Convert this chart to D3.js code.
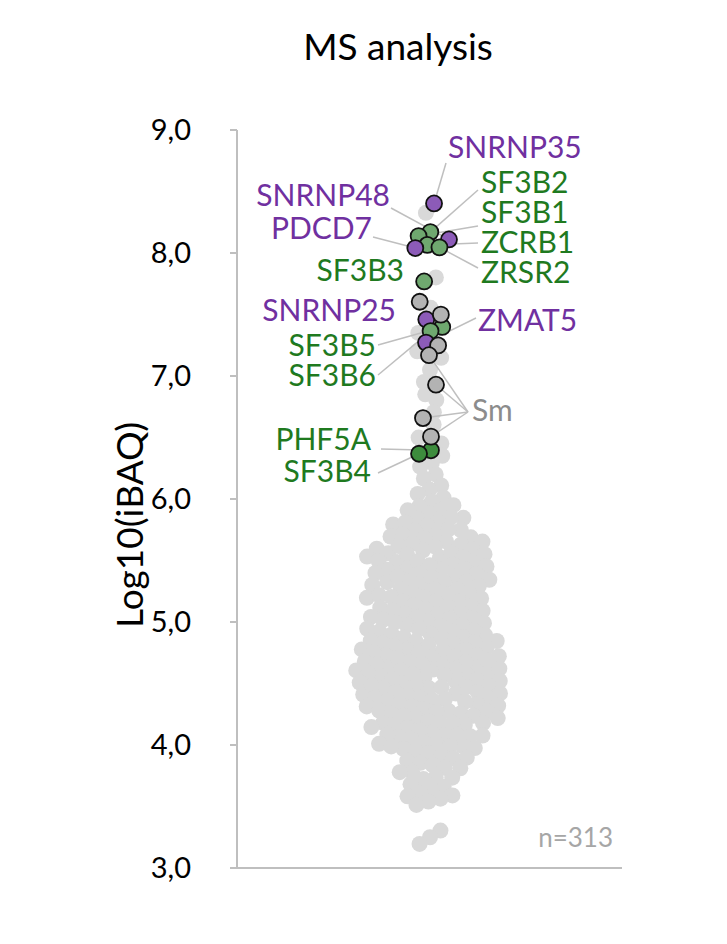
<!DOCTYPE html>
<html><head><meta charset="utf-8">
<script src="https://cdn.jsdelivr.net/npm/d3@7"></script>
<style>body{margin:0;background:#fff}text{font-family:Lato,"Open Sans",sans-serif}</style>
</head><body><svg id="c" width="727" height="944"></svg>
<script>
const yTicks=[3,4,5,6,7,8,9];
const tickLabels=["3,0","4,0","5,0","6,0","7,0","8,0","9,0"];
const hiNames=["SNRNP35","SF3B2","SNRNP48","SF3B1","ZCRB1","PDCD7","ZRSR2","SF3B3","Sm1","SNRNP25","Sm2","SF3B5","SF3B6","ZMAT5","Sm3","Sm4","Sm5","Sm6","Sm7","PHF5A","SF3B4"];
const hiValues=[8.40,8.17,8.10,8.12,8.07,8.05,8.06,7.77,7.60,7.46,7.50,7.40,7.37,7.27,7.25,7.17,6.93,6.66,6.52,6.38,6.37];
const hiGroup=["p","g","p","g","g","p","g","g","s","p","s","g","g","p","s","s","s","s","s","g2","g2"];
const bgValues=[8.33,7.80,7.55,7.35,7.20,7.15,7.05,6.95,6.85,6.80,6.70,6.60,6.50,6.45,6.35,6.30,6.25,6.20,6.15,6.10,6.05,6.02,5.98,5.95,5.92,5.90,
5.88,5.86,5.85,5.83,5.82,5.80,5.78,5.76,5.75,5.74,5.72,5.70,5.69,5.68,5.66,5.65,5.64,5.62,5.61,5.60,5.59,5.58,5.57,5.56,5.55,5.55,5.54,5.53,5.53,5.52,5.52,5.51,5.50,5.50,5.49,5.48,5.48,5.47,5.46,5.45,5.45,5.44,5.43,5.42,5.41,5.40,5.40,5.39,5.38,5.37,5.36,5.35,5.34,5.33,5.32,5.31,5.30,5.29,5.28,5.27,5.26,5.25,5.24,5.23,5.22,5.21,5.20,5.19,5.18,5.17,5.16,5.15,5.14,5.13,5.12,5.11,5.10,5.09,5.08,5.07,5.06,5.05,5.04,5.03,5.02,5.01,5.00,5.00,4.99,4.98,4.97,4.96,4.95,4.95,4.94,4.93,4.92,4.91,4.90,4.90,4.89,4.88,4.87,4.86,4.85,4.85,4.84,4.83,4.82,4.81,4.80,4.80,4.79,4.78,4.77,4.76,4.75,4.75,4.74,4.73,4.72,4.72,4.71,4.70,4.70,4.69,4.68,4.68,4.67,4.66,4.66,4.65,4.65,4.64,4.63,4.63,4.62,4.62,4.61,4.60,4.60,4.59,4.58,4.58,4.57,4.57,4.56,4.55,4.55,4.54,4.54,4.53,4.52,4.52,4.51,4.50,4.50,4.49,4.48,4.48,4.47,4.46,4.46,4.45,4.45,4.44,4.43,4.42,4.42,4.41,4.40,4.40,4.39,4.38,4.37,4.36,4.35,4.35,4.34,4.33,4.32,4.31,4.30,4.30,4.29,4.28,4.27,4.26,4.25,4.24,4.23,4.22,4.21,4.20,4.19,4.18,4.17,4.16,4.15,4.14,4.13,4.12,4.11,4.10,4.09,4.08,4.07,4.06,4.05,4.04,4.03,4.02,4.01,4.00,3.98,3.96,3.95,3.93,3.91,3.90,3.88,3.86,3.85,3.83,3.81,3.80,3.78,3.76,3.74,3.72,3.70,3.68,3.66,3.64,3.62,3.60,3.58,3.55,3.52,3.30,3.25,3.20];
const svg=d3.select("#c");
const y=d3.scaleLinear().domain([3,9]).range([868,130]);
const cx=430;
svg.append("line").attr("x1",237).attr("x2",237).attr("y1",130).attr("y2",868).attr("stroke","#bfbfbf").attr("stroke-width",2);
svg.append("line").attr("x1",237).attr("x2",622).attr("y1",868).attr("y2",868).attr("stroke","#bfbfbf").attr("stroke-width",2);
yTicks.forEach((t,i)=>{
 svg.append("line").attr("x1",230).attr("x2",237).attr("y1",y(t)).attr("y2",y(t)).attr("stroke","#bfbfbf").attr("stroke-width",2);
 svg.append("text").attr("x",191).attr("y",y(t)+10).attr("text-anchor","end").attr("font-size",29).attr("fill","#000").text(tickLabels[i]);
});
svg.append("text").attr("x",398).attr("y",60).attr("text-anchor","middle").attr("font-size",37).text("MS analysis");
svg.append("text").attr("transform","translate(143,525) rotate(-90)").attr("text-anchor","middle").attr("font-size",37).text("Log10(iBAQ)");
svg.append("text").attr("x",613).attr("y",847).attr("text-anchor","end").attr("font-size",26).attr("fill","#a6a6a6").text("n=313");
const nodes=bgValues.map(v=>({v,hi:false})).concat(hiValues.map((v,i)=>({v,hi:true,name:hiNames[i],g:hiGroup[i]})));
nodes.forEach((n,i)=>{n.x=cx+((i*37)%21-10);n.y=y(n.v);});
const sim=d3.forceSimulation(nodes).force("y",d3.forceY(d=>y(d.v)).strength(1)).force("x",d3.forceX(cx).strength(0.08)).force("col",d3.forceCollide(6.2)).stop();
for(let i=0;i<300;i++)sim.tick();
const R=8;
svg.append("g").selectAll("circle").data(nodes.filter(d=>!d.hi)).join("circle").attr("cx",d=>d.x).attr("cy",d=>d.y).attr("r",R).attr("fill","#d9d9d9");
const fills={p:"#8c5bb8",g:"#6fa86f",g2:"#3d8c3d",s:"#b3b3b3"};
const col={p:"#7030a0",g:"#1f7a1f",g2:"#1f7a1f",s:"#8c8c8c"};
const hi=nodes.filter(d=>d.hi);
const byName={};hi.forEach(d=>byName[d.name]=d);
const labels=[["SNRNP35","SNRNP35",448,158,"start",446,163],["SF3B2","SF3B2",481,193,"start",478,190],["SNRNP48","SNRNP48",390,206,"end",391,208],
["SF3B1","SF3B1",481,223,"start",478,226],["ZCRB1","ZCRB1",481,253,"start",478,243],["PDCD7","PDCD7",372,239,"end",373,237],["ZRSR2","ZRSR2",481,283,"start",478,268],
["SF3B3","SF3B3",404,281,"end",null,null],["SNRNP25","SNRNP25",396,321,"end",null,null],["ZMAT5","ZMAT5",478,331,"start",476,318],
["SF3B5","SF3B5",376,356,"end",378,345],["SF3B6","SF3B6",376,386,"end",378,375],["Sm","Sm",472,421,"start",null,null],
["PHF5A","PHF5A",371,450,"end",381,449],["SF3B4","SF3B4",371,482,"end",378,473]];
const lg=svg.append("g").attr("stroke","#bfbfbf").attr("stroke-width",1.5);
labels.forEach(l=>{const d=byName[l[0]];if(d&&l[5]!==null)lg.append("line").attr("x1",l[5]).attr("y1",l[6]).attr("x2",d.x).attr("y2",d.y);});
["Sm4","Sm5","Sm6","Sm7"].forEach(n=>{const d=byName[n];lg.append("line").attr("x1",468).attr("y1",412).attr("x2",d.x).attr("y2",d.y);});
svg.append("g").selectAll("circle").data(hi.slice().sort((a,b)=>(a.g==="s")-(b.g==="s"))).join("circle").attr("cx",d=>d.x).attr("cy",d=>d.y).attr("r",R).attr("fill",d=>fills[d.g]).attr("stroke","#111").attr("stroke-width",1.8);
labels.forEach(l=>{const d=byName[l[0]];const g=d?d.g:"s";svg.append("text").attr("x",l[2]).attr("y",l[3]).attr("text-anchor",l[4]).attr("font-size",30).attr("fill",col[g]).text(l[1]);});
</script></body></html>
